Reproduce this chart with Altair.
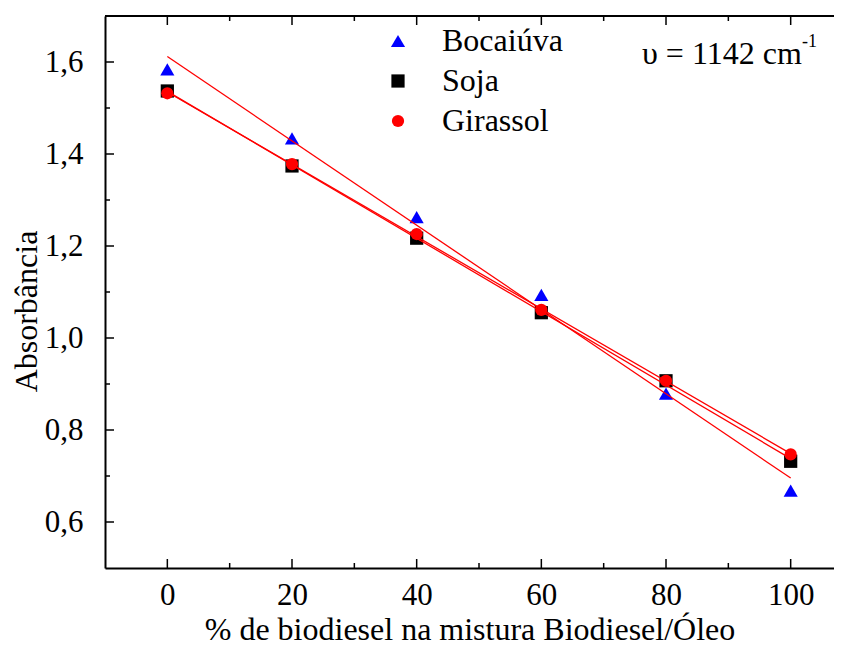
import altair as alt
import pandas as pd

# ---- data ----
pct = [0, 20, 40, 60, 80, 100]
bocaiuva = [1.584, 1.434, 1.263, 1.094, 0.879, 0.668]
soja = [1.537, 1.374, 1.217, 1.055, 0.907, 0.732]
girassol = [1.532, 1.378, 1.226, 1.061, 0.907, 0.747]
series_names = ["Bocaiúva", "Soja", "Girassol"]
series_shapes = ["triangle-up", "square", "circle"]
series_colors = ["#0000ff", "#000000", "#ff0000"]

x_major = [0, 20, 40, 60, 80, 100]
x_minor = [10, 30, 50, 70, 90]
y_major = [0.6, 0.8, 1.0, 1.2, 1.4, 1.6]
y_minor = [0.7, 0.9, 1.1, 1.3, 1.5]

x_title = "% de biodiesel na mistura Biodiesel/Óleo"
y_title = "Absorbância"
note_main = "υ = 1142 cm"
note_sup = "-1"

W, H = 729, 552
FONT = "Liberation Serif"

rows = []
for name, vals in zip(series_names, [bocaiuva, soja, girassol]):
    for p, v in zip(pct, vals):
        rows.append({"pct": p, "val": v, "serie": name})
df = pd.DataFrame(rows)

xscale = alt.Scale(domain=[-10, 106.95], nice=False, zero=False)
yscale = alt.Scale(domain=[0.5, 1.7], nice=False, zero=False)

xaxis = alt.Axis(values=x_major, title=x_title, ticks=False, tickSize=0, grid=False,
                 domainColor="black", domainWidth=2, labelFont=FONT, labelFontSize=31,
                 labelColor="black", labelPadding=12, titleFont=FONT, titleFontSize=32,
                 titleFontWeight="normal", titleColor="black", titlePadding=4, labelFlush=False)
yaxis = alt.Axis(values=y_major, title=y_title, ticks=False, tickSize=0, grid=False,
                 domainColor="black", domainWidth=2, labelFont=FONT, labelFontSize=31,
                 labelColor="black", labelPadding=22, titleFont=FONT, titleFontSize=32,
                 titleFontWeight="normal", titleColor="black", titleX=-62, titleY=295,
                 labelExpr="replace(format(datum.value, '.1f'), '.', ',')", labelFlush=False)


def xenc(field):
    return alt.X(field, type="quantitative", scale=xscale, axis=xaxis)


def yenc(field):
    return alt.Y(field, type="quantitative", scale=yscale, axis=yaxis)


base = alt.Chart(df)

points = base.mark_point(filled=True, opacity=1, strokeWidth=0).encode(
    x=xenc("pct"),
    y=yenc("val"),
    shape=alt.Shape("serie:N", scale=alt.Scale(domain=series_names, range=series_shapes),
                    legend=alt.Legend(orient="none", legendX=277, legendY=9, title=None,
                                      labelFont=FONT, labelFontSize=32, labelColor="black",
                                      symbolSize=260, symbolStrokeWidth=0, labelOffset=28,
                                      rowPadding=8, padding=0)),
    color=alt.Color("serie:N", scale=alt.Scale(domain=series_names, range=series_colors),
                    legend=alt.Legend(orient="none", legendX=277, legendY=9, title=None)),
    size=alt.Size("serie:N", scale=alt.Scale(domain=series_names, range=[200, 150, 190]), legend=None),
    order=alt.Order("ord:Q"),
).transform_calculate(ord="indexof(['Bocaiúva','Soja','Girassol'], datum.serie)")

lines = base.transform_regression("pct", "val", groupby=["serie"], extent=[0, 100]).mark_line(
    color="#ff0000", strokeWidth=1.3
).encode(x=xenc("pct"), y=yenc("val"), detail="serie:N")


def xticks(vals, top, length):
    d = pd.DataFrame({"t": vals})
    y1 = 0 if top else H
    y2 = length if top else H - length
    return alt.Chart(d).mark_rule(color="black", strokeWidth=1.5).encode(
        x=xenc("t"), y=alt.value(y1), y2=alt.value(y2))


def yticks(vals, length):
    d = pd.DataFrame({"t": vals})
    return alt.Chart(d).mark_rule(color="black", strokeWidth=1.5).encode(
        y=yenc("t"), x=alt.value(0), x2=alt.value(length))


top_border = alt.Chart(pd.DataFrame({"a": [0]})).mark_rule(color="black", strokeWidth=2).encode(
    x=alt.value(0), x2=alt.value(W), y=alt.value(0))

note1 = alt.Chart(pd.DataFrame({"a": [0]})).mark_text(
    text=note_main, font=FONT, fontSize=32, align="left", baseline="alphabetic", color="black"
).encode(x=alt.value(537), y=alt.value(48))
note2 = alt.Chart(pd.DataFrame({"a": [0]})).mark_text(
    text=note_sup, font=FONT, fontSize=18, align="left", baseline="alphabetic", color="black"
).encode(x=alt.value(697), y=alt.value(31))

chart = alt.layer(
    xticks(x_major, True, 9), xticks(x_minor, True, 5),
    xticks(x_major, False, 9), xticks(x_minor, False, 5),
    yticks(y_major, 9), yticks(y_minor, 5),
    top_border, points, lines, note1, note2,
).properties(
    width=W, height=H,
    autosize=alt.AutoSizeParams(type="none"),
    padding={"left": 97, "top": 8, "right": 0, "bottom": 79},
).configure_view(stroke=None).configure(background="white")

chart.save("out.html", embed_options={"renderer": "svg", "actions": False})
